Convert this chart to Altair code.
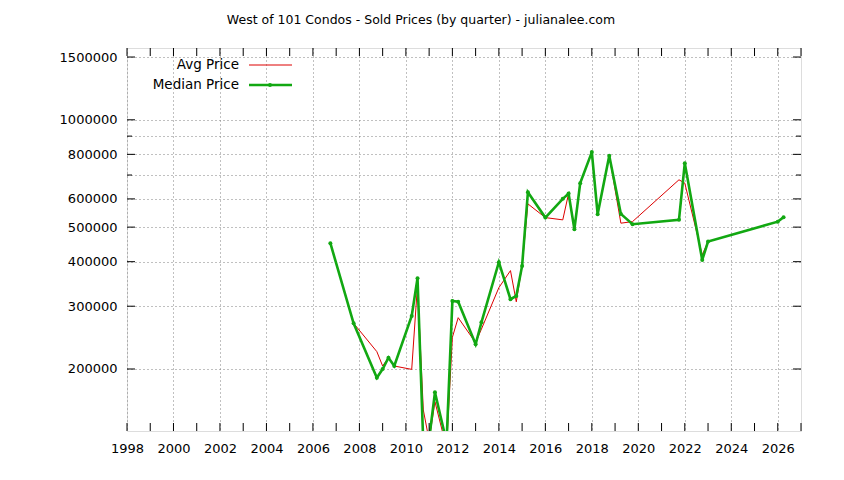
import altair as alt
import pandas as pd

# ---- data ----
quarters = [2006.75, 2007.75, 2008.75, 2009.0, 2009.25, 2009.5, 2010.25, 2010.5,
            2010.75, 2011.0, 2011.25, 2011.75, 2012.0, 2012.25, 2013.0, 2013.25,
            2014.0, 2014.5, 2014.75, 2015.0, 2015.25, 2016.0, 2016.75, 2017.0,
            2017.25, 2017.5, 2018.0, 2018.25, 2018.75, 2019.25, 2019.75, 2021.75,
            2022.0, 2022.75, 2023.0, 2026.0, 2026.25]
avg_price = [450600, 268700, 223700, 203900, 215100, 203900, 199500, 345000,
             153500, 126000, 161900, 120000, 245400, 278600, 237000, 258800,
             338200, 377600, 308700, 389200, 581000, 531700, 524000, 621000,
             493400, 664300, 811800, 543500, 792500, 512900, 518100, 678800,
             664500, 417800, 455300, 518000, 533000]
median_price = [450600, 268700, 189000, 200000, 215100, 203900, 281700, 359400,
                122700, 127200, 172000, 124700, 310400, 308700, 234600, 270400,
                398600, 313800, 320600, 389200, 626600, 531700, 600200, 621000,
                493400, 664300, 811800, 543500, 792500, 544600, 509500, 524000,
                755700, 404500, 455300, 518000, 533000]
x_ticks = list(range(1998, 2028))
y_major = [200000, 300000, 400000, 500000, 600000, 800000, 1000000, 1500000]
y_minor = [700000, 900000]
title_text = "West of 101 Condos - Sold Prices (by quarter) - julianalee.com"
legend_labels = ["Avg Price", "Median Price"]

RED = "#dd0000"
GREEN = "#12a812"
FONT = "DejaVu Sans"
W, H = 674, 383

df = pd.DataFrame({"t": quarters, "avg": avg_price, "median": median_price})
xs = alt.Scale(domain=[1998, 2027], nice=False, zero=False)
ys = alt.Scale(type="log", domain=[134000, 1590000], nice=False)

common = dict(domain=False, ticks=False, grid=True, gridDash=[1, 3],
              gridColor="#808080", gridWidth=1, labelFont=FONT, labelFontSize=13,
              labelColor="black", title=None)
x_axis = alt.Axis(values=x_ticks,
                  labelExpr="datum.value % 2 == 0 ? '' + datum.value : ''",
                  labelPadding=11, labelFlush=False, **common)
y_axis = alt.Axis(values=sorted(y_major + y_minor), format="d",
                  labelExpr="(datum.value == 700000 || datum.value == 900000) ? '' : datum.label",
                  labelPadding=10, **common)

base = alt.Chart(df)
avg_line = base.mark_line(color=RED, strokeWidth=1, clip=True).encode(
    x=alt.X("t:Q", scale=xs, axis=x_axis, title=None),
    y=alt.Y("avg:Q", scale=ys, axis=y_axis, title=None),
)
med_line = base.mark_line(color=GREEN, strokeWidth=2.6, clip=True).encode(
    x=alt.X("t:Q", title=None),
    y=alt.Y("median:Q", title=None),
)
med_pts = base.mark_circle(color=GREEN, size=16, opacity=1, clip=True).encode(
    x=alt.X("t:Q", title=None),
    y=alt.Y("median:Q", title=None),
)

# inward ticks (gnuplot style), mirrored on all four sides
xt = pd.DataFrame({"t": x_ticks})
tick_bottom = alt.Chart(xt).mark_rule(color="black", strokeWidth=1).encode(
    x=alt.X("t:Q", title=None), y=alt.value(H), y2=alt.value(H - 8))
tick_top = alt.Chart(xt).mark_rule(color="black", strokeWidth=1).encode(
    x=alt.X("t:Q", title=None), y=alt.value(0), y2=alt.value(8))
ymaj = pd.DataFrame({"v": y_major})
ymin = pd.DataFrame({"v": y_minor})
tick_left = alt.Chart(ymaj).mark_rule(color="black", strokeWidth=1).encode(
    y=alt.Y("v:Q", title=None), x=alt.value(0), x2=alt.value(8))
tick_right = alt.Chart(ymaj).mark_rule(color="black", strokeWidth=1).encode(
    y=alt.Y("v:Q", title=None), x=alt.value(W), x2=alt.value(W - 8))
tick_left_min = alt.Chart(ymin).mark_rule(color="black", strokeWidth=1).encode(
    y=alt.Y("v:Q", title=None), x=alt.value(0), x2=alt.value(5))
tick_right_min = alt.Chart(ymin).mark_rule(color="black", strokeWidth=1).encode(
    y=alt.Y("v:Q", title=None), x=alt.value(W), x2=alt.value(W - 5))

# legend (gnuplot key, labels to the left of samples)
leg1 = pd.DataFrame({"label": [legend_labels[0]]})
leg2 = pd.DataFrame({"label": [legend_labels[1]]})
leg_t1 = alt.Chart(leg1).mark_text(align="right", baseline="middle", font=FONT,
                                   fontSize=13.5, color="black").encode(
    x=alt.value(112), y=alt.value(17), text="label:N")
leg_t2 = alt.Chart(leg2).mark_text(align="right", baseline="middle", font=FONT,
                                   fontSize=13.5, color="black").encode(
    x=alt.value(112), y=alt.value(37), text="label:N")
leg_r1 = alt.Chart(leg1).mark_rule(color=RED, strokeWidth=1).encode(
    x=alt.value(122), x2=alt.value(165), y=alt.value(17))
leg_r2 = alt.Chart(leg2).mark_rule(color=GREEN, strokeWidth=2.6).encode(
    x=alt.value(122), x2=alt.value(165), y=alt.value(37))
leg_p2 = alt.Chart(leg2).mark_circle(color=GREEN, size=16, opacity=1).encode(
    x=alt.value(143), y=alt.value(37))

chart = alt.layer(
    avg_line, med_line, med_pts,
    tick_bottom, tick_top, tick_left, tick_right, tick_left_min, tick_right_min,
    leg_t1, leg_t2, leg_r1, leg_r2, leg_p2,
).properties(
    width=W, height=H,
    autosize=alt.AutoSizeParams(type="none"),
    padding={"left": 119, "top": 40, "right": 35, "bottom": 41},
    title=alt.Title(title_text, font=FONT, fontSize=12.5, fontWeight="normal",
                    color="black", anchor="middle", dx=-43, offset=21),
).configure_view(
    stroke="black", strokeWidth=1,
).configure(background="white")

chart.save("out.html", embed_options={"renderer": "svg", "actions": False})
